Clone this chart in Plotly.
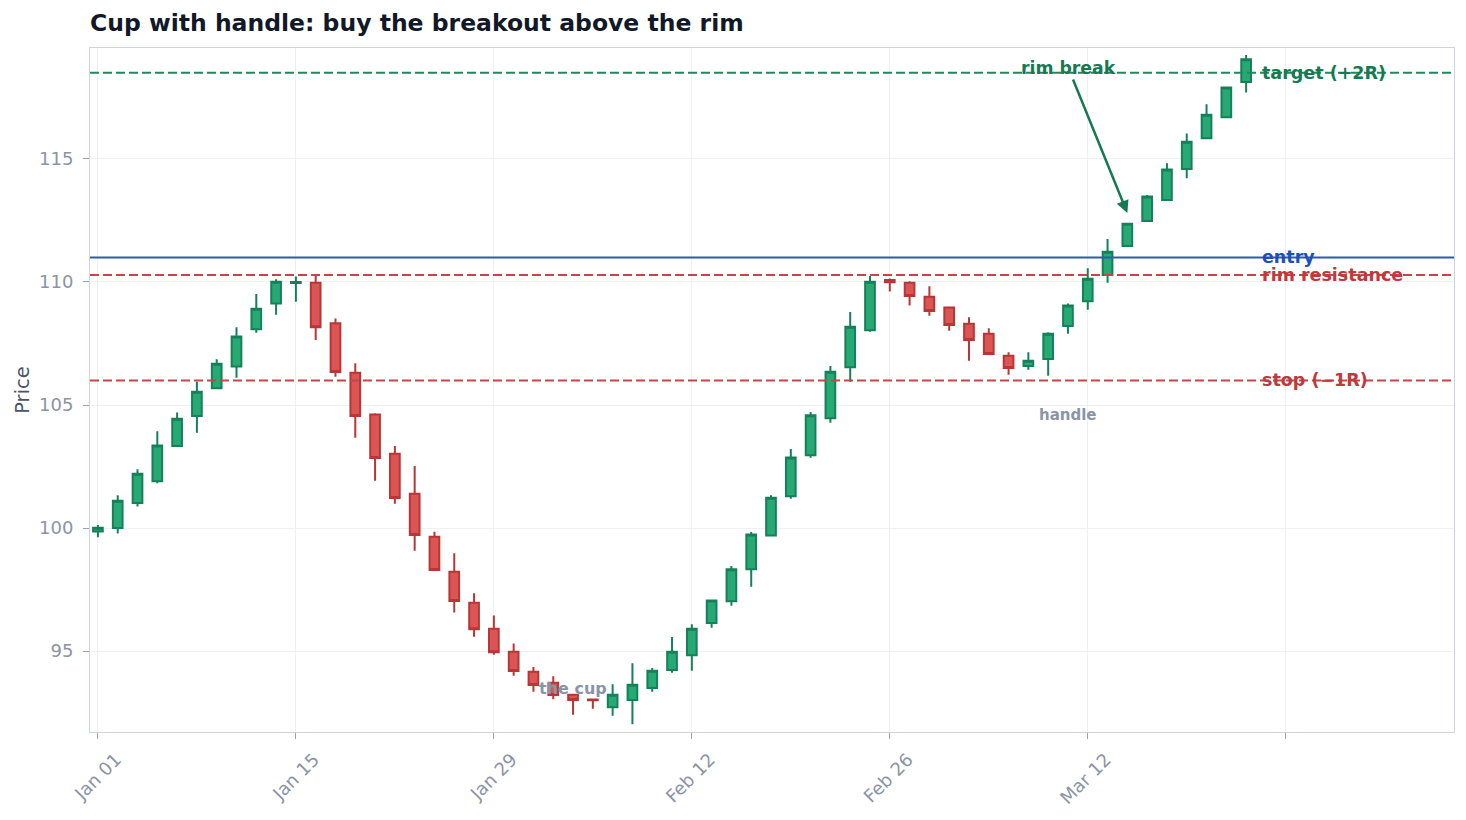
import pandas as pd
import plotly.graph_objects as go

# ---- data ----
dates = pd.bdate_range("2025-01-01", periods=59)
opens = [99.86, 100.0, 101.02, 101.90, 103.33, 104.55, 105.68, 106.57, 108.08, 109.13,
         109.96, 109.97, 108.32, 106.31, 104.61, 103.02, 101.39, 99.65, 98.22, 96.96,
         95.91, 94.97, 94.16, 93.71, 93.22, 93.03, 92.72, 93.01, 93.50, 94.23,
         94.83, 96.14, 97.02, 98.32, 99.70, 101.29, 102.96, 104.46, 106.53, 108.04,
         110.08, 109.97, 109.40, 108.96, 108.30, 107.90, 107.00, 106.59, 106.87, 108.21,
         109.22, 110.28, 111.46, 112.48, 113.33, 114.59, 115.84, 116.70, 118.13]
highs = [100.12, 101.33, 102.39, 103.93, 104.70, 105.95, 106.86, 108.16, 109.51, 110.11,
         110.22, 110.28, 108.52, 106.70, 104.66, 103.33, 102.52, 99.85, 98.97, 97.35,
         96.45, 95.31, 94.35, 93.98, 93.22, 93.03, 93.65, 94.50, 94.31, 95.57,
         96.09, 97.05, 98.46, 99.84, 101.33, 103.21, 104.72, 106.59, 108.78, 110.24,
         110.14, 110.03, 109.83, 108.96, 108.57, 108.12, 107.14, 107.14, 107.96, 109.13,
         110.56, 111.75, 112.37, 113.54, 114.83, 116.04, 117.22, 117.90, 119.23]
lows = [99.63, 99.78, 100.87, 101.82, 103.33, 103.87, 105.64, 106.11, 107.94, 108.67,
        109.20, 107.64, 106.15, 103.67, 101.92, 100.99, 99.08, 98.25, 96.57, 95.58,
        94.85, 94.00, 93.35, 93.04, 92.41, 92.65, 92.37, 92.02, 93.35, 94.12,
        94.20, 95.95, 96.84, 97.61, 99.70, 101.19, 102.86, 104.28, 105.95, 107.98,
        109.61, 109.04, 108.63, 108.02, 106.80, 107.07, 106.23, 106.43, 106.19, 107.90,
        108.87, 109.97, 111.46, 112.48, 113.33, 114.22, 115.84, 116.70, 117.70]
closes = [100.01, 101.11, 102.21, 103.35, 104.44, 105.54, 106.68, 107.78, 108.91, 110.01,
          110.0, 108.16, 106.34, 104.55, 102.85, 101.22, 99.72, 98.29, 97.03, 95.89,
          94.95, 94.19, 93.62, 93.21, 93.01, 93.00, 93.22, 93.63, 94.20, 94.97,
          95.91, 97.05, 98.32, 99.74, 101.23, 102.87, 104.58, 106.35, 108.18, 110.01,
          109.99, 109.43, 108.82, 108.25, 107.64, 107.07, 106.50, 106.80, 107.90, 109.04,
          110.13, 111.23, 112.37, 113.47, 114.57, 115.70, 116.80, 117.90, 119.05]

target_level = 118.5
entry_level = 111.0
rim_level = 110.28
stop_level = 106.0

tick_idx = [0, 10, 20, 30, 40, 50, 60]
tick_text = [dates[i].strftime("%b %d") if i < len(dates) else "" for i in tick_idx]

x = list(range(len(dates)))

FONT = "DejaVu Sans"
GREEN = "#157a52"
RED = "#c0393b"
BLUE = "#1f4fb4"
GRAY = "#8a94a6"

fig = go.Figure()
fig.add_trace(go.Candlestick(
    x=x, open=opens, high=highs, low=lows, close=closes,
    text=[d.strftime("%b %d") for d in dates],
    increasing=dict(fillcolor="#27a974", line=dict(color="#16805a", width=2)),
    decreasing=dict(fillcolor="#dc5555", line=dict(color="#b83636", width=2)),
    showlegend=False,
))

# horizontal levels
fig.add_shape(type="line", xref="paper", x0=0, x1=1, y0=target_level, y1=target_level,
              line=dict(color="#1e8a5c", width=2, dash="9px,4px"))
fig.add_shape(type="line", xref="paper", x0=0, x1=1, y0=entry_level, y1=entry_level,
              line=dict(color="#2a5bb8", width=2))
fig.add_shape(type="line", xref="paper", x0=0, x1=1, y0=rim_level, y1=rim_level,
              line=dict(color="#c44646", width=2, dash="9px,4px"))
fig.add_shape(type="line", xref="paper", x0=0, x1=1, y0=stop_level, y1=stop_level,
              line=dict(color="#c44646", width=2, dash="9px,4px"))

lab_x = 58.7
for y, txt, col in [(target_level, "target (+2R)", GREEN),
                    (entry_level, "entry", BLUE),
                    (rim_level, "rim resistance", RED),
                    (stop_level, "stop (−1R)", RED)]:
    fig.add_annotation(x=lab_x, y=y, text=f"<b>{txt}</b>", showarrow=False,
                       xanchor="left", yanchor="middle",
                       font=dict(family=FONT, size=17.5, color=col))

fig.add_annotation(x=52, y=112.8, text="<b>rim break</b>", showarrow=True,
                   ax=-59, ay=-145, arrowhead=2, arrowsize=1, arrowwidth=2.5,
                   arrowcolor=GREEN, font=dict(family=FONT, size=17.3, color=GREEN))
fig.add_annotation(x=24, y=93.46, text="<b>the cup</b>", showarrow=False,
                   font=dict(family=FONT, size=16, color=GRAY))
fig.add_annotation(x=49, y=104.6, text="<b>handle</b>", showarrow=False,
                   font=dict(family=FONT, size=15, color=GRAY))

fig.update_layout(
    width=1466, height=820,
    margin=dict(l=90, r=12, t=48, b=88),
    paper_bgcolor="white", plot_bgcolor="white",
    font=dict(family=FONT, color=GRAY),
    title=dict(text="<b>Cup with handle: buy the breakout above the rim</b>",
               x=0, xref="paper", xanchor="left", y=1 - 23 / 820, yref="container",
               yanchor="middle", font=dict(family=FONT, size=23.5, color="#111827")),
    xaxis=dict(range=[-0.4, 68.5], tickmode="array", tickvals=tick_idx, ticktext=tick_text,
               tickangle=-45, tickfont=dict(size=18, color=GRAY),
               ticklabelshift=18, ticklabelstandoff=3,
               showgrid=True, gridcolor="#eef0f4", gridwidth=1,
               showline=True, linecolor="#cdd4de", linewidth=1, mirror=True,
               ticks="outside", ticklen=6, tickcolor="#9aa3b2",
               rangeslider=dict(visible=False), zeroline=False),
    yaxis=dict(range=[91.71, 119.51], tickvals=[95, 100, 105, 110, 115],
               tickfont=dict(size=18, color=GRAY), ticklabelstandoff=6,
               title=dict(text="Price", font=dict(size=19.5, color="#4a5466"), standoff=4),
               showgrid=True, gridcolor="#eef0f4", gridwidth=1,
               showline=True, linecolor="#cdd4de", linewidth=1, mirror=True,
               ticks="outside", ticklen=6, tickcolor="#9aa3b2", zeroline=False),
)

fig.write_html("out.html")
